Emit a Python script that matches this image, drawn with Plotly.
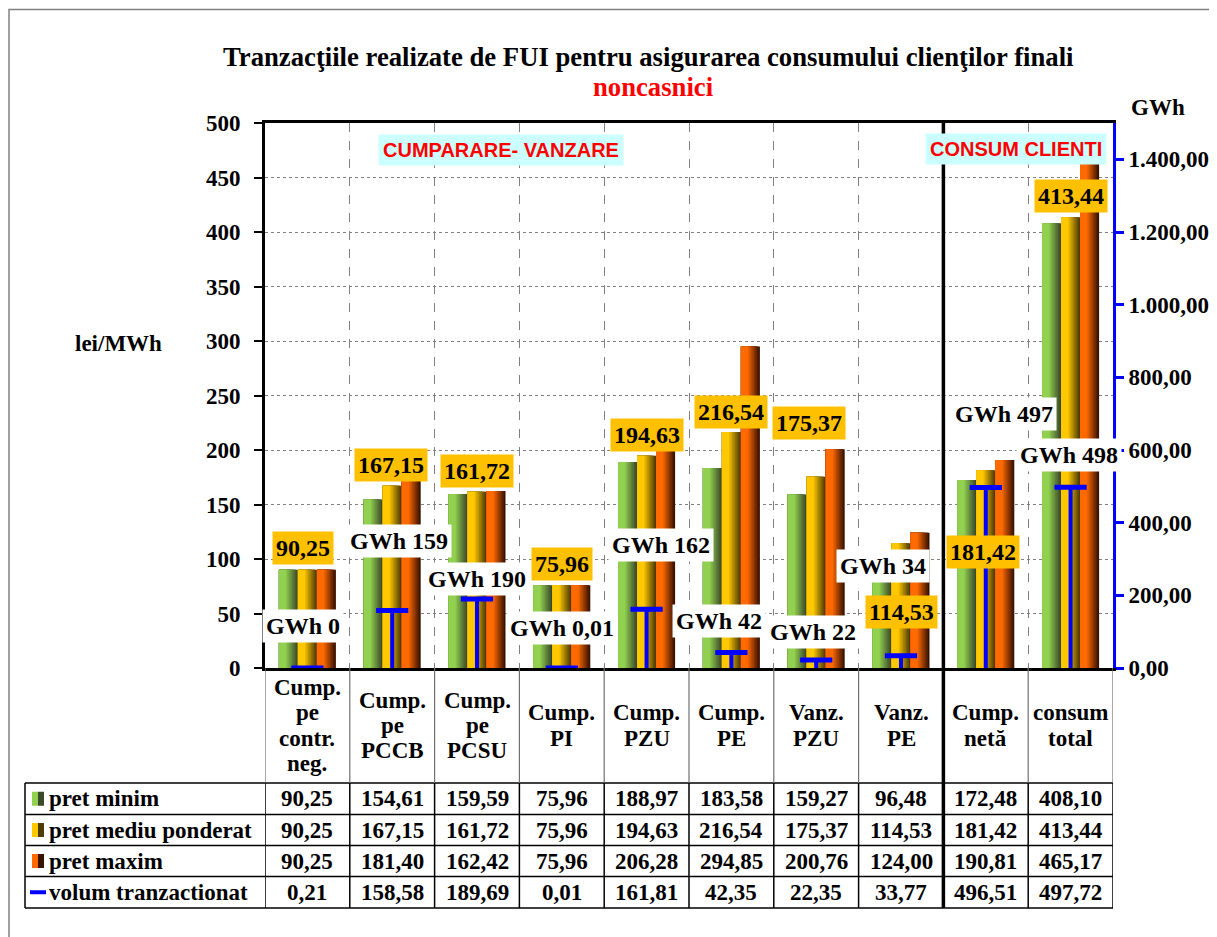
import plotly.graph_objects as go

# ---------------- data ----------------
categories = [["Cump.", "pe", "contr.", "neg."], ["Cump.", "pe", "PCCB"], ["Cump.", "pe", "PCSU"],
              ["Cump.", "PI"], ["Cump.", "PZU"], ["Cump.", "PE"], ["Vanz.", "PZU"], ["Vanz.", "PE"],
              ["Cump.", "netă"], ["consum", "total"]]
pret_minim = [90.25, 154.61, 159.59, 75.96, 188.97, 183.58, 159.27, 96.48, 172.48, 408.10]
pret_mediu = [90.25, 167.15, 161.72, 75.96, 194.63, 216.54, 175.37, 114.53, 181.42, 413.44]
pret_maxim = [90.25, 181.40, 162.42, 75.96, 206.28, 294.85, 200.76, 124.00, 190.81, 465.17]
volum = [0.21, 158.58, 189.69, 0.01, 161.81, 42.35, 22.35, 33.77, 496.51, 497.72]
row_labels = ["pret minim", "pret mediu ponderat", "pret maxim", "volum tranzactionat"]
title_text = "Tranzacţiile realizate de FUI pentru asigurarea consumului clienţilor finali"
subtitle_text = "noncasnici"

# ---------------- layout helpers (page pixel coordinates) ----------------
OFF = 8                     # default body margin of the html page
W, H = 1209, 929
PL, PR, PT, PB = 265, 1113, 123, 668
SERIF = "Liberation Serif"
SANS = "Liberation Sans"


def px(x):
    return (x - PL) / (PR - PL)


def py(y):
    return (PB - y) / (PB - PT)


def fmt(v):
    return f"{v:.2f}".replace(".", ",")


def gwh(v):
    return f"GWh {fmt(v)}" if v < 0.1 else f"GWh {round(v)}"


def mix(c1, c2, t):
    a = [int(c1[i:i + 2], 16) for i in (1, 3, 5)]
    b = [int(c2[i:i + 2], 16) for i in (1, 3, 5)]
    return "#%02x%02x%02x" % tuple(round(a[i] + (b[i] - a[i]) * t) for i in range(3))


def ptext(x, y, text, size=23, color="black", family=SERIF, xanchor="center", **kw):
    return dict(xref="paper", yref="paper", x=px(x), y=py(y), text=text, showarrow=False,
                xanchor=xanchor, yanchor="middle", font=dict(family=family, size=size, color=color), **kw)


idx = list(range(len(categories)))
series = [
    (pret_minim, "#92d050", "#3c4a2a"),
    (pret_mediu, "#ffc800", "#4e3c05"),
    (pret_maxim, "#ff6a00", "#3a1200"),
]
BW = 0.224
K = 9

fig = go.Figure()
for s, (vals, light, dark) in enumerate(series):
    left = -0.336 + s * BW
    for k in range(K):
        t = k / (K - 1)
        fig.add_trace(go.Bar(
            x=idx, y=vals, width=BW * (1 - 0.62 * t), offset=left,
            marker=dict(color=mix(dark, light, t), line=dict(width=0)),
            showlegend=False, hoverinfo="skip", yaxis="y"))

fig.add_trace(go.Scatter(
    x=idx, y=volum, yaxis="y2", mode="markers", cliponaxis=False,
    marker=dict(symbol="line-ew", size=23, line=dict(width=5, color="#0000ff"), color="#0000ff"),
    error_y=dict(type="data", symmetric=False, array=[0] * len(volum), arrayminus=volum,
                 width=0, thickness=4, color="#0000ff"),
    showlegend=False))

ann = []
shapes = []

# titles
ann.append(ptext(648, 57, f"<b>{title_text}</b>", size=26.7))
ann.append(ptext(653, 87, f"<b>{subtitle_text}</b>", size=26.7, color="#ff0000"))
ann.append(ptext(118, 343, "<b>lei/MWh</b>"))
ann.append(ptext(1158, 107, "<b>GWh</b>"))

# section boxes
ann.append(ptext(501, 150, "<b>CUMPARARE- VANZARE</b>", size=20, color="#ff0000", family=SANS,
                 bgcolor="#ccffff", borderpad=4))
ann.append(ptext(1016, 149, "<b>CONSUM CLIENTI</b>", size=20, color="#ff0000", family=SANS,
                 bgcolor="#ccffff", borderpad=4))

# data labels (positions: category offset, left-axis value)
price_lbl_pos = [(-0.05, 110), (-0.02, 186), (0, 181), (0, 95.4), (0, 214), (0, 235),
                 (-0.08, 225), (0, 51), (-0.03, 106), (0, 433)]
vol_lbl_pos = [(-0.05, 38.5), (0.08, 116.5), (0, 81.6), (0, 36.7), (0.17, 112.8), (-0.15, 42.7),
               (-0.04, 32.6), (-0.21, 94), (0.22, 233), (-0.02, 195)]
for i in idx:
    dx, yy = price_lbl_pos[i]
    ann.append(dict(xref="x", yref="y", x=i + dx, y=yy, text=f"<b>{fmt(pret_mediu[i])}</b>",
                    showarrow=False, xanchor="center", yanchor="middle", bgcolor="#ffc000", borderpad=3,
                    font=dict(family=SERIF, size=24, color="black")))
    dx, yy = vol_lbl_pos[i]
    ann.append(dict(xref="x", yref="y", x=i + dx, y=yy, text=f"<b>{gwh(volum[i])}</b>",
                    showarrow=False, xanchor="center", yanchor="middle", bgcolor="white", borderpad=3,
                    font=dict(family=SERIF, size=24, color="black")))

# category labels (one annotation per line)
CAT_MID, CAT_LS = 725.5, 25.4
for i, lines in enumerate(categories):
    n = len(lines)
    for j, ln in enumerate(lines):
        ypix = CAT_MID + (j - (n - 1) / 2) * CAT_LS
        ann.append(dict(xref="x", yref="paper", x=i, y=py(ypix), text=f"<b>{ln}</b>",
                        showarrow=False, xanchor="center", yanchor="middle",
                        font=dict(family=SERIF, size=23, color="black")))

# table
ROW_TOP = [783, 814.5, 845.5, 876.5, 908]
table_rows = [pret_minim, pret_mediu, pret_maxim, volum]
for r, vals in enumerate(table_rows):
    yc = (ROW_TOP[r] + ROW_TOP[r + 1]) / 2
    ann.append(ptext(47, yc, f"<b>{row_labels[r]}</b>", xanchor="left"))
    for i in idx:
        ann.append(dict(xref="x", yref="paper", x=i, y=py(yc), text=f"<b>{fmt(vals[i])}</b>",
                        showarrow=False, xanchor="center", yanchor="middle",
                        font=dict(family=SERIF, size=23, color="black")))
    if r < 3:
        light, dark = series[r][1], series[r][2]
        shapes.append(dict(type="rect", xref="paper", yref="paper", x0=px(32), x1=px(38),
                           y0=py(yc - 7), y1=py(yc + 7), fillcolor=light, line=dict(width=0)))
        shapes.append(dict(type="rect", xref="paper", yref="paper", x0=px(38), x1=px(44),
                           y0=py(yc - 7), y1=py(yc + 7), fillcolor=dark, line=dict(width=0)))
    else:
        shapes.append(dict(type="line", xref="paper", yref="paper", x0=px(30), x1=px(46),
                           y0=py(yc), y1=py(yc), line=dict(color="#0000ff", width=4)))

# table horizontal lines
for yl in ROW_TOP:
    shapes.append(dict(type="line", xref="paper", yref="paper", x0=px(25), x1=px(1113),
                       y0=py(yl), y1=py(yl), line=dict(color="black", width=1.5)))
shapes.append(dict(type="line", xref="paper", yref="paper", x0=px(25), x1=px(25),
                   y0=py(783), y1=py(908), line=dict(color="black", width=1.5)))
# vertical lines in category area and table
for b in [i - 0.5 for i in idx] + [len(idx) - 0.5]:
    shapes.append(dict(type="line", xref="x", yref="paper", x0=b, x1=b, y0=py(668), y1=py(783),
                       line=dict(color="#707070", width=1.2)))
    shapes.append(dict(type="line", xref="x", yref="paper", x0=b, x1=b, y0=py(783), y1=py(908),
                       line=dict(color="black", width=1.5)))
# thick separator between "Vanz. PE" and "Cump. netă"
shapes.append(dict(type="line", xref="x", yref="paper", x0=7.5, x1=7.5, y0=py(908), y1=1,
                   line=dict(color="black", width=3.5)))
# outer frame
shapes.append(dict(type="rect", xref="paper", yref="paper", x0=px(9), x1=px(1240),
                   y0=py(960), y1=py(9.5), line=dict(color="#808080", width=1.5)))

tickfont = dict(family=SERIF, size=23, color="black", weight="bold")
fig.update_layout(
    width=W, height=H, autosize=False,
    margin=dict(l=PL - OFF, r=OFF + W - PR, t=PT - OFF, b=OFF + H - PB, pad=0, autoexpand=False),
    paper_bgcolor="white", plot_bgcolor="white",
    separators=",.",
    barmode="overlay",
    showlegend=False,
    xaxis=dict(range=[-0.5, 9.5], tickvals=[i + 0.5 for i in idx[:-1]], showticklabels=False,
               ticks="", showgrid=True, gridcolor="#808080", griddash="dash", gridwidth=1,
               showline=True, linecolor="black", linewidth=3, mirror=True, zeroline=False,
               fixedrange=True, automargin=False),
    yaxis=dict(range=[0, 500], dtick=50, tick0=0, showgrid=True, gridcolor="#808080",
               griddash="dot", gridwidth=1, showline=True, linecolor="black", linewidth=3,
               ticks="outside", ticklen=8, tickwidth=1.5, tickcolor="black", automargin=False,
               tickfont=tickfont, zeroline=False, ticklabelstandoff=9),
    yaxis2=dict(range=[0, 1500], dtick=200, tick0=0, overlaying="y", side="right",
                showgrid=False, showline=True, linecolor="#0000ff", linewidth=3,
                ticks="outside", ticklen=8, tickwidth=3, tickcolor="#0000ff", automargin=False,
                tickformat=",.2f", tickfont=tickfont, zeroline=False, ticklabelstandoff=0),
    annotations=ann,
    shapes=shapes,
)

fig.write_html("out.html")
